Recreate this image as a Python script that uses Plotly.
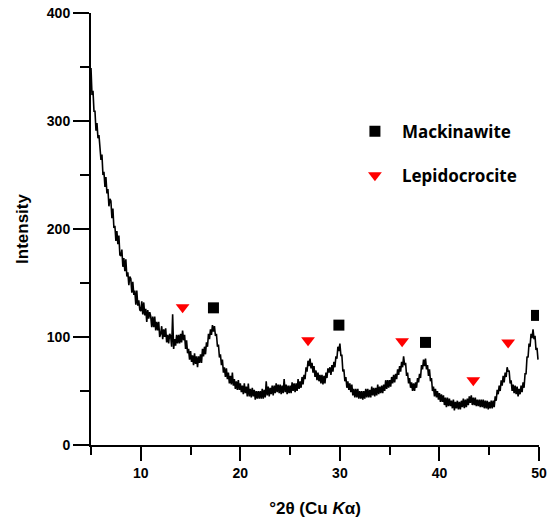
import numpy as np
import plotly.graph_objects as go

# --- Data ---
two_theta_start = 5.0
two_theta_step = 0.1
intensity = [
    349, 324, 328, 309, 309, 291, 298, 284, 287, 270,
    264, 269, 250, 253, 239, 248, 233, 237, 221, 228,
    226, 210, 219, 201, 203, 189, 198, 186, 194, 176,
    175, 181, 165, 173, 161, 172, 156, 160, 148, 156,
    154, 141, 151, 139, 143, 130, 143, 129, 134, 125,
    124, 133, 121, 132, 120, 126, 114, 125, 117, 123,
    119, 109, 119, 109, 119, 106, 114, 106, 114, 100,
    103, 110, 98, 107, 100, 108, 95, 102, 94, 103,
    101, 91, 121, 89, 98, 92, 102, 94, 102, 94,
    103, 95, 106, 97, 102, 89, 97, 85, 89, 79,
    87, 77, 83, 74, 85, 75, 82, 72, 82, 76,
    84, 76, 89, 82, 91, 84, 95, 91, 103, 98,
    107, 102, 111, 105, 110, 101, 103, 91, 93, 81,
    84, 74, 79, 67, 72, 63, 71, 61, 67, 57,
    64, 56, 67, 55, 61, 52, 59, 51, 60, 51,
    57, 49, 55, 47, 57, 48, 54, 45, 57, 45,
    52, 44, 53, 45, 51, 42, 50, 43, 50, 43,
    50, 43, 52, 43, 51, 44, 59, 46, 54, 45,
    53, 47, 55, 46, 55, 48, 57, 49, 56, 48,
    56, 47, 55, 48, 61, 49, 56, 47, 55, 48,
    55, 48, 58, 50, 57, 49, 57, 50, 61, 52,
    59, 53, 63, 56, 65, 61, 72, 68, 78, 73,
    80, 71, 76, 67, 73, 63, 69, 60, 67, 59,
    65, 57, 65, 56, 64, 57, 67, 62, 71, 67,
    72, 65, 74, 68, 77, 72, 82, 80, 91, 87,
    94, 83, 83, 68, 70, 59, 63, 53, 59, 51,
    57, 49, 56, 46, 52, 44, 52, 44, 52, 43,
    50, 43, 50, 42, 50, 43, 52, 44, 52, 44,
    51, 44, 54, 46, 53, 45, 53, 46, 56, 47,
    54, 48, 55, 48, 56, 50, 60, 52, 60, 53,
    60, 54, 63, 57, 65, 58, 66, 61, 70, 65,
    73, 68, 77, 72, 82, 74, 76, 64, 67, 57,
    62, 53, 58, 50, 57, 50, 58, 53, 62, 58,
    66, 62, 74, 70, 79, 73, 80, 70, 74, 64,
    70, 59, 62, 50, 54, 45, 52, 44, 50, 42,
    48, 40, 47, 40, 46, 37, 44, 35, 44, 36,
    43, 36, 41, 34, 42, 32, 40, 34, 41, 33,
    40, 33, 41, 35, 43, 34, 42, 35, 43, 37,
    45, 39, 46, 37, 44, 37, 44, 36, 42, 36,
    42, 35, 42, 35, 42, 34, 41, 34, 41, 33,
    40, 34, 41, 34, 41, 35, 45, 41, 51, 47,
    55, 50, 60, 55, 64, 58, 67, 63, 72, 68,
    69, 57, 60, 50, 56, 48, 55, 47, 54, 45,
    52, 47, 55, 49, 58, 53, 66, 66, 82, 81,
    94, 91, 103, 99, 107, 98, 101, 88, 90, 79,
]
two_theta = [round(two_theta_start + i * two_theta_step, 2) for i in range(len(intensity))]

mack_x = [17.3, 29.9, 38.6, 49.75]
mack_y = [127, 111, 95, 120]
lepi_x = [14.2, 26.8, 36.25, 43.4, 46.9]
lepi_y = [127.5, 97, 96, 60, 95]

x_ticks = [10, 20, 30, 40, 50]
y_ticks = [0, 100, 200, 300, 400]

fig = go.Figure()
fig.add_trace(go.Scatter(x=two_theta, y=intensity, mode="lines",
                         line=dict(color="black", width=1.6), showlegend=False))
fig.add_trace(go.Scatter(x=mack_x, y=mack_y, mode="markers", name="Mackinawite",
                         legendgroup="a",
                         marker=dict(symbol="square", size=11, color="black")))
fig.add_trace(go.Scatter(x=lepi_x, y=lepi_y, mode="markers", name="Lepidocrocite",
                         legendgroup="b",
                         marker=dict(symbol="triangle-down", size=12, color="#ff0000")))

axis_font = dict(family="Liberation Sans, Arial", size=14, color="black", weight="bold")
fig.update_layout(
    width=557, height=518,
    margin=dict(l=91, r=18, t=13, b=73),
    paper_bgcolor="white", plot_bgcolor="white",
    legend=dict(x=0.5735, y=0.767, xanchor="left", yanchor="top",
                font=dict(family="Noto Sans", size=17, color="black", weight="bold"),
                tracegroupgap=19, itemwidth=44, bgcolor="rgba(0,0,0,0)"),
    xaxis=dict(range=[5, 50], tickvals=x_ticks, ticks="outside", ticklen=14, tickwidth=2,
               tickcolor="black", showline=True, linecolor="black", linewidth=2,
               showgrid=False, zeroline=False, tickfont=axis_font, automargin=False,
               minor=dict(dtick=5, tick0=5, ticks="outside", ticklen=8, tickwidth=2,
                          tickcolor="black", showgrid=False),
               title=dict(text="°2θ (Cu <i>K</i>α)",
                          font=dict(family="Liberation Sans, Arial", size=17, color="black",
                                    weight="bold"), standoff=27)),
    yaxis=dict(range=[0, 400], tickvals=y_ticks, ticks="outside", ticklen=16, tickwidth=2,
               tickcolor="black", showline=True, linecolor="black", linewidth=2,
               showgrid=False, zeroline=False, tickfont=axis_font, automargin=False,
               minor=dict(dtick=50, tick0=0, ticks="outside", ticklen=9, tickwidth=2,
                          tickcolor="black", showgrid=False),
               title=dict(text="Intensity",
                          font=dict(family="Liberation Sans, Arial", size=17, color="black",
                                    weight="bold"), standoff=14)),
)

fig.write_html("out.html")
